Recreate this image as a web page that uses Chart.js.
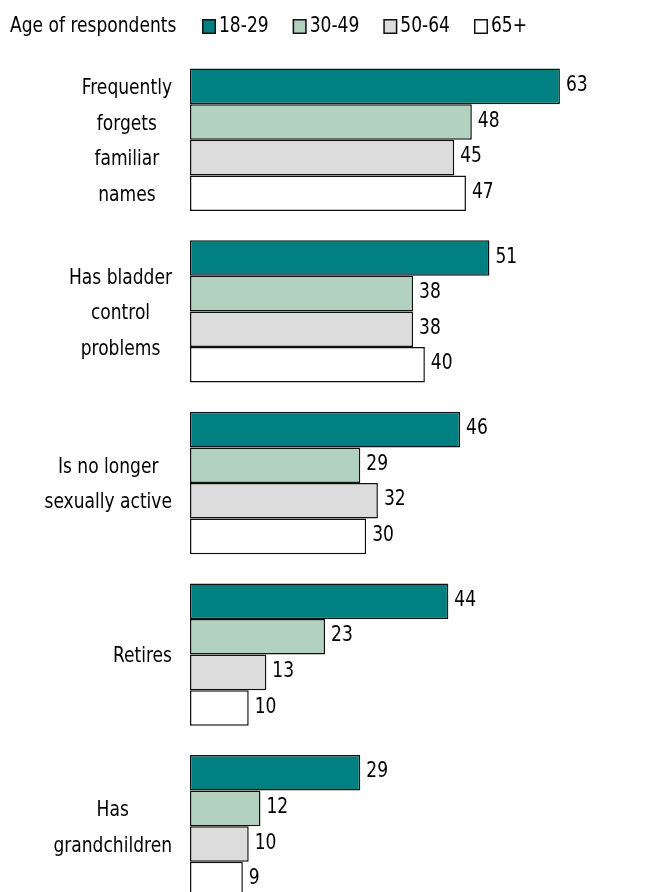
<!DOCTYPE html>
<html>
<head>
<meta charset="utf-8">
<script src="https://cdn.jsdelivr.net/npm/chart.js@4"></script>
<style>
  html, body { margin: 0; padding: 0; background: #fff; overflow: hidden; }
  #wrap { width: 649px; height: 912px; position: relative; }
</style>
</head>
<body>
<div id="wrap"><canvas id="chart"></canvas></div>
<script>
const categories = [
  ["Frequently", "forgets", "familiar", "names"],
  ["Has bladder", "control", "problems"],
  ["Is no longer", "sexually active"],
  ["Retires"],
  ["Has", "grandchildren"]
];
const ageGroups = ["18-29", "30-49", "50-64", "65+"];
const age18to29 = [63, 51, 46, 44, 29];
const age30to49 = [48, 38, 29, 23, 12];
const age50to64 = [45, 38, 32, 13, 10];
const age65plus = [47, 40, 30, 10, 9];
const colors = ["#008080", "#b3d1bf", "#dcdcdc", "#ffffff"];
const legendTitle = "Age of respondents";

const FONT = "19px 'DejaVu Sans Condensed', 'DejaVu Sans', sans-serif";
const INK = "#000";

// text slightly taller than the font's natural shape, like the original
function drawText(ctx, s, x, y) {
  ctx.save();
  ctx.translate(x, y);
  ctx.scale(1, 1.15);
  ctx.fillText(s, 0, 0);
  ctx.restore();
}

// legend drawn at the top, left of the plot
const legendPlugin = {
  id: "topLegend",
  afterDraw(c) {
    const ctx = c.ctx;
    ctx.save();
    ctx.font = FONT;
    ctx.fillStyle = INK;
    ctx.textBaseline = "middle";
    ctx.textAlign = "left";
    drawText(ctx, legendTitle, 10, 26);
    let x = 202;
    ageGroups.forEach((g, i) => {
      ctx.fillStyle = colors[i];
      ctx.fillRect(x, 19, 14, 15);
      ctx.strokeStyle = "#111";
      ctx.lineWidth = 1.5;
      ctx.strokeRect(x + 0.75, 19.75, 12.5, 13.5);
      ctx.fillStyle = INK;
      drawText(ctx, g, x + 17, 26);
      x += 17 + ctx.measureText(g).width + 24;
    });
    ctx.restore();
  }
};

// category labels: lines centred within a block that is right-aligned to the axis
const catLabels = {
  id: "catLabels",
  afterDraw(c) {
    const ctx = c.ctx;
    const y = c.scales.y;
    ctx.save();
    ctx.font = FONT;
    ctx.fillStyle = INK;
    ctx.textBaseline = "middle";
    ctx.textAlign = "center";
    const lh = 35.5;
    categories.forEach((lines, i) => {
      const cy = y.getPixelForValue(i) + 2;
      const w = Math.max(...lines.map(l => ctx.measureText(l).width));
      const cx = 172 - w / 2;
      const top = cy - (lines.length - 1) * lh / 2;
      lines.forEach((l, j) => drawText(ctx, l, cx, top + j * lh));
    });
    ctx.restore();
  }
};

// value labels right of each bar
const valueLabels = {
  id: "valueLabels",
  afterDatasetsDraw(c) {
    const ctx = c.ctx;
    ctx.save();
    ctx.font = FONT;
    ctx.fillStyle = INK;
    ctx.textBaseline = "middle";
    ctx.textAlign = "left";
    c.data.datasets.forEach((ds, di) => {
      c.getDatasetMeta(di).data.forEach((el, i) => {
        drawText(ctx, String(ds.data[i]), el.x + 6, el.y - 1);
      });
    });
    ctx.restore();
  }
};

const series = [age18to29, age30to49, age50to64, age65plus];

new Chart(document.getElementById("chart"), {
  type: "bar",
  data: {
    labels: categories.map(l => l.join(" ")),
    datasets: series.map((d, i) => ({
      label: ageGroups[i],
      data: d,
      backgroundColor: colors[i],
      borderColor: "#111",
      borderWidth: 1.5,
      borderSkipped: false,
      categoryPercentage: 0.83,
      barPercentage: 1.0
    }))
  },
  options: {
    indexAxis: "y",
    responsive: true,
    maintainAspectRatio: false,
    animation: false,
    layout: { padding: { left: 190, right: 48, top: 54, bottom: 0 } },
    plugins: {
      legend: { display: false },
      tooltip: { enabled: false }
    },
    scales: {
      x: { display: false, min: 0, max: 70 },
      y: { display: false }
    }
  },
  plugins: [legendPlugin, catLabels, valueLabels]
});
</script>
</body>
</html>
